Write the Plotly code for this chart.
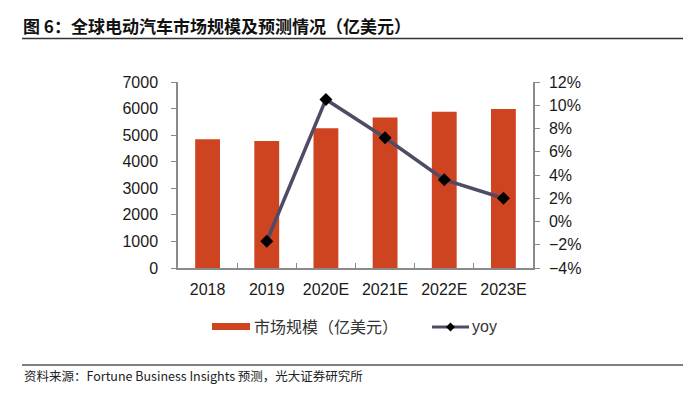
import plotly.graph_objects as go

categories = ["2018", "2019", "2020E", "2021E", "2022E", "2023E"]
market_size = [4850, 4780, 5260, 5660, 5880, 5980]
yoy_categories = ["2019", "2020E", "2021E", "2022E", "2023E"]
yoy_pct = [-1.7, 10.5, 7.2, 3.6, 2.0]

title_text = "图 6：全球电动汽车市场规模及预测情况（亿美元）"
source_text = "资料来源：Fortune Business Insights 预测，光大证券研究所"
bar_name = "市场规模（亿美元）"
line_name = "yoy"

OFF = 8  # page body margin
W, H = 693 - OFF, 394 - OFF
L, R, T, B = 178 - OFF, 533 - OFF, 82 - OFF, 268 - OFF

def px(x):
    return (x - OFF - L) / (R - L)

def py(y):
    return (B - (y - OFF)) / (B - T)

bar_color = "#cf4420"
line_color = "#4f4b66"
axis_color = "#8a8a8a"
font_main = "Liberation Sans, Arial, sans-serif"
cjk = "Noto Sans CJK SC"

fig = go.Figure()
fig.add_trace(go.Bar(x=categories, y=market_size, marker_color=bar_color,
                     marker_line_width=0, width=0.42, name=bar_name, yaxis="y"))
fig.add_trace(go.Scatter(x=yoy_categories, y=yoy_pct, mode="lines+markers",
                         line=dict(color=line_color, width=3.5),
                         marker=dict(symbol="diamond", size=10, color="black"),
                         name=line_name, yaxis="y2"))

fig.update_layout(
    width=W, height=H,
    margin=dict(l=L, r=W - R, t=T, b=H - B),
    plot_bgcolor="white", paper_bgcolor="white",
    showlegend=False,
    font=dict(family=font_main, size=16, color="#1a1a1a"),
    xaxis=dict(type="category", showline=True, linecolor=axis_color, linewidth=1.5,
               ticks="inside", tickson="boundaries", ticklen=5, tickcolor=axis_color,
               showgrid=False, tickfont=dict(size=16), ticklabelstandoff=6,
               range=[-0.5, 5.5]),
    yaxis=dict(range=[0, 7000], dtick=1000, showline=True, linecolor=axis_color,
               linewidth=1.5, ticks="outside", ticklen=5, tickcolor=axis_color,
               showgrid=False, zeroline=False, tickfont=dict(size=16),
               ticklabelstandoff=10),
    yaxis2=dict(range=[-4, 12], dtick=2, overlaying="y", side="right",
                showline=True, linecolor=axis_color, linewidth=1.5,
                ticks="outside", ticklen=5, tickcolor=axis_color,
                showgrid=False, zeroline=False, ticksuffix="%",
                tickfont=dict(size=16), ticklabelstandoff=6),
)

cx, cy, r = 450.5, 327, 4.5
shapes = [
    dict(type="line", xref="paper", yref="paper", x0=px(22), x1=px(683),
         y0=py(38.5), y1=py(38.5), line=dict(color="#333333", width=1.5)),
    dict(type="line", xref="paper", yref="paper", x0=px(22), x1=px(683),
         y0=py(365), y1=py(365), line=dict(color="#555555", width=1.5)),
    dict(type="rect", xref="paper", yref="paper", x0=px(212), x1=px(250),
         y0=py(323), y1=py(330), fillcolor=bar_color, line=dict(width=0)),
    dict(type="line", xref="paper", yref="paper", x0=px(432), x1=px(469),
         y0=py(327), y1=py(327), line=dict(color=line_color, width=3)),
    dict(type="path", xref="paper", yref="paper",
         path=f"M {px(cx)} {py(cy - r)} L {px(cx + r)} {py(cy)} L {px(cx)} {py(cy + r)} L {px(cx - r)} {py(cy)} Z",
         fillcolor="black", line=dict(width=0)),
]
fig.update_layout(shapes=shapes)

annotations = [
    dict(text=f"<b>{title_text}</b>", xref="paper", yref="paper", x=px(21), y=py(25),
         xanchor="left", yanchor="middle", showarrow=False,
         font=dict(family=cjk, size=17, color="#111111")),
    dict(text=source_text, xref="paper", yref="paper", x=px(22), y=py(375),
         xanchor="left", yanchor="middle", showarrow=False,
         font=dict(family=cjk, size=12.5, color="#222222")),
    dict(text=bar_name, xref="paper", yref="paper", x=px(252), y=py(326),
         xanchor="left", yanchor="middle", showarrow=False,
         font=dict(family=cjk, size=16, color="#333333")),
    dict(text=line_name, xref="paper", yref="paper", x=px(470), y=py(326),
         xanchor="left", yanchor="middle", showarrow=False,
         font=dict(family=font_main, size=16, color="#333333")),
]
fig.update_layout(annotations=annotations)

fig.write_html("out.html")
